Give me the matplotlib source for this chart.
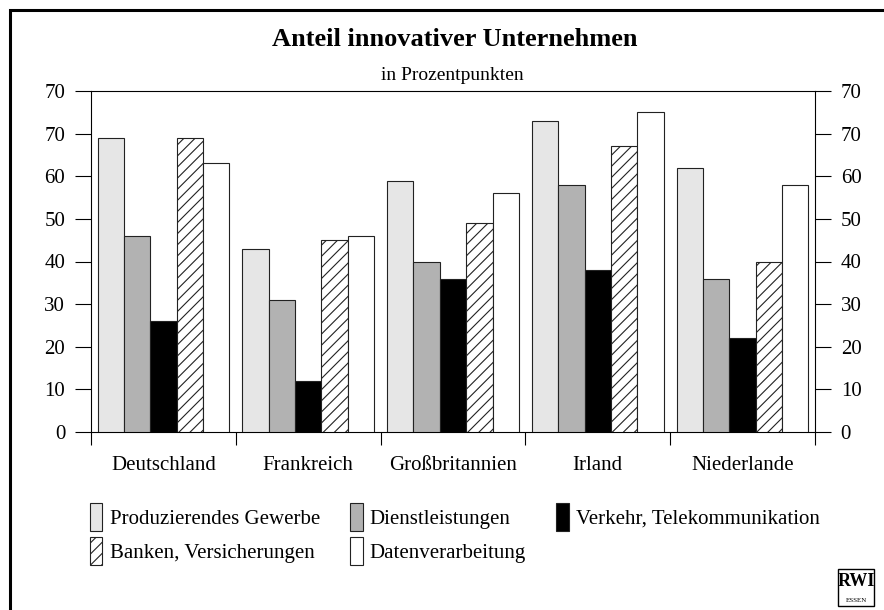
import matplotlib
matplotlib.use('Agg')
import matplotlib.pyplot as plt
from matplotlib.patches import Rectangle, Patch

# Daten: Anteil innovativer Unternehmen in Prozent
laender = ['Deutschland', 'Frankreich', 'Großbritannien', 'Irland', 'Niederlande']
produzierendes_gewerbe = [69, 43, 59, 73, 62]
dienstleistungen = [46, 31, 40, 58, 36]
verkehr_telekom = [26, 12, 36, 38, 22]
banken_versicherungen = [69, 45, 49, 67, 40]
datenverarbeitung = [63, 46, 56, 75, 58]

serien = ['Produzierendes Gewerbe', 'Dienstleistungen', 'Verkehr, Telekommunikation',
          'Banken, Versicherungen', 'Datenverarbeitung']
werte = [produzierendes_gewerbe, dienstleistungen, verkehr_telekom,
         banken_versicherungen, datenverarbeitung]
farben = ['#e6e6e6', '#b2b2b2', '#000000', 'white', 'white']
schraffur = [None, None, None, '///', None]

# Achsenbeschriftung wie im Original (oberste Linie auch mit "70")
y_ticks = [0, 10, 20, 30, 40, 50, 60, 70, 80]
y_labels = ['0', '10', '20', '30', '40', '50', '60', '70', '70']

plt.rcParams['font.family'] = ['Liberation Serif', 'DejaVu Serif']
plt.rcParams['hatch.linewidth'] = 0.8

fig = plt.figure(figsize=(8.84, 6.10), dpi=100)
ax = fig.add_axes([91 / 884, 1 - 432 / 610, (815 - 91) / 884, (432 - 91) / 610])

breite = 0.182
for j, (name, v) in enumerate(zip(serien, werte)):
    x = [i + (j - 2) * breite for i in range(len(laender))]
    ax.bar(x, v, width=breite, color=farben[j], edgecolor='#222222', linewidth=0.8,
           hatch=schraffur[j], label=name, zorder=3)

ax.set_xlim(-0.5, len(laender) - 0.5)
ax.set_ylim(0, 80)

ax.set_yticks(y_ticks)
ax.set_yticklabels(y_labels)
ax.tick_params(axis='y', which='major', direction='out', length=11.5, width=0.8,
               left=True, right=True, labelleft=True, labelright=True,
               labelsize=15, pad=7)

ax.set_xticks(range(len(laender)))
ax.set_xticklabels(laender)
ax.set_xticks([i - 0.5 for i in range(len(laender) + 1)], minor=True)
ax.tick_params(axis='x', which='major', length=0, labelsize=15, pad=17)
ax.tick_params(axis='x', which='minor', direction='out', length=9.5, width=0.8)

for s in ax.spines.values():
    s.set_linewidth(0.8)

# Titel
fig.text(455 / 884, 1 - 40 / 610, 'Anteil innovativer Unternehmen', ha='center', va='center',
         fontsize=19, fontweight='bold')
fig.text(452 / 884, 1 - 75 / 610, 'in Prozentpunkten', ha='center', va='center', fontsize=14)

# Legende (Reihenfolge so, dass die Zeilen wie im Original gefüllt werden)
h, l = ax.get_legend_handles_labels()
ordnung = [0, 3, 1, 4, 2]
fig.legend([h[k] for k in ordnung], [l[k] for k in ordnung], ncol=3,
           loc='upper left', bbox_to_anchor=(71 / 884, 1 - 484 / 610),
           frameon=False, fontsize=15, handlelength=0.6, handleheight=1.7,
           handletextpad=0.35, columnspacing=1.45, labelspacing=0.3)

# Rahmen um die Grafik
fig.patches.append(Rectangle((10 / 884, -0.1), 1.2, 1 - 10 / 610 + 0.1, transform=fig.transFigure,
                             fill=False, edgecolor='black', linewidth=2.2, clip_on=False))

# RWI Logo
fig.text(856 / 884, 1 - 582 / 610, 'RWI', ha='center', va='center', fontsize=13,
         fontweight='bold')
fig.text(856 / 884, 1 - 600 / 610, 'ESSEN', ha='center', va='center', fontsize=5)
fig.patches.append(Rectangle((838 / 884, 1 - 606 / 610), 36 / 884, 37 / 610,
                             transform=fig.transFigure, fill=False, edgecolor='black',
                             linewidth=1.0))

fig.savefig('out.png', dpi=100)
